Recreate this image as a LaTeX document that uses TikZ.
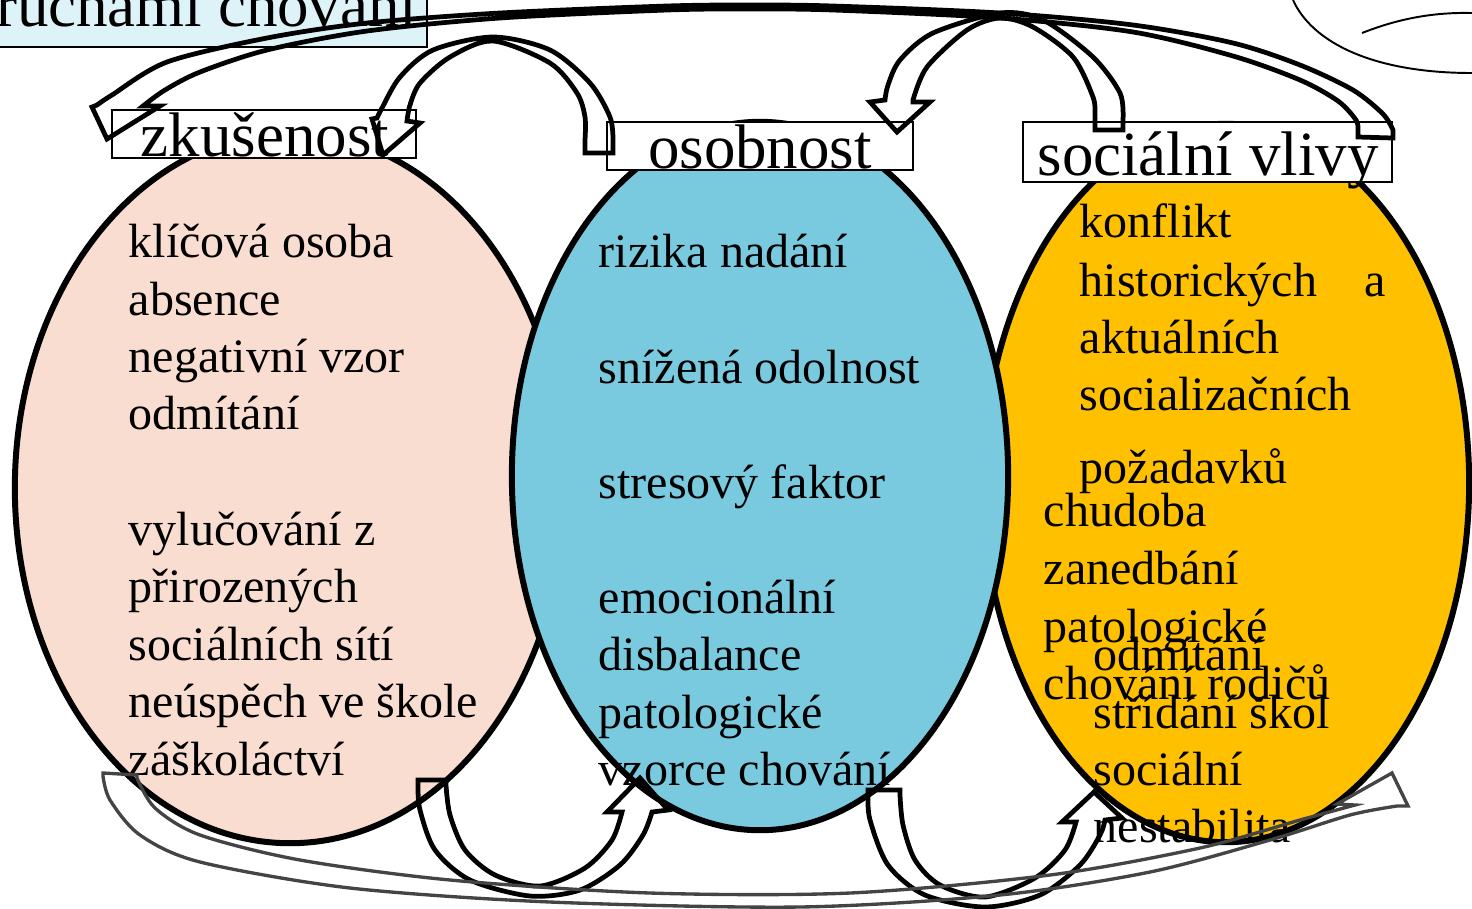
\documentclass[tikz,border=0pt]{standalone}
\usepackage{fontspec}
\setmainfont{Liberation Serif}
\usetikzlibrary{shapes.geometric}
\definecolor{peach}{RGB}{249,221,208}
\definecolor{skyb}{RGB}{121,201,223}
\definecolor{amber}{RGB}{255,192,0}
\definecolor{paleCyan}{RGB}{221,243,248}
\definecolor{greyarrow}{RGB}{68,68,68}
\begin{document}
\begin{tikzpicture}[x=0.01cm,y=-0.01cm,
  ell/.style={ellipse, draw=black, line width=1.7pt, inner sep=0pt},
  tbox/.style={rectangle, draw=black, fill=white, line width=0.6pt, inner sep=0pt},
  ttl/.style={anchor=base, inner sep=0pt, font=\fontsize{17.9}{21}\selectfont},
  txt/.style={anchor=base west, inner sep=0pt, font=\fontsize{13.66}{16.4}\selectfont},
  blockarrow/.style={draw=black, line width=1.35pt},
  greyblock/.style={draw=greyarrow, line width=0.95pt},
  thinarc/.style={draw=black, line width=0.55pt}]
\useasboundingbox (0,0) rectangle (1472,908);
\clip (0,0) rectangle (1472,908);

% header box (cut off at the top)
\node[tbox, fill=paleCyan, minimum width=4.6cm, minimum height=1cm, anchor=south east] (hdr) at (428,48) {};
\node[ttl, anchor=base east] (hdrt) at (418,26) {ruchami chování};

% decorative arcs top right
\draw[thinarc] (1293,0) .. controls (1312,42) and (1372,73) .. (1472,73);
\draw[thinarc] (1362,33) .. controls (1395,20) and (1430,12) .. (1472,13);

% ellipses
\node[ell, fill=peach, minimum width=5.5cm, minimum height=7.1cm] (zk) at (290,488) {};
\node[ell, fill=amber, minimum width=4.86cm, minimum height=7.18cm] (sv) at (1226,483) {};
\node[ell, fill=skyb, minimum width=4.96cm, minimum height=7.08cm] (os) at (760,476) {};

% title boxes
\node[tbox, minimum width=3.04cm, minimum height=0.48cm] (zkbox) at (264,134) {};
\node[tbox, minimum width=3.06cm, minimum height=0.48cm] (osbox) at (760,146) {};
\node[tbox, minimum width=3.69cm, minimum height=0.60cm] (svbox) at (1207.5,152) {};
\node[ttl] (zktitle) at (265,156) {zkušenost};
\node[ttl] (ostitle) at (760,168) {osobnost};
\node[ttl] (svtitle) at (1208,175) {sociální vlivy};

% texts
\foreach \y/\t [count=\i] in {257/klíčová osoba, 315/absence, 372/negativní vzor, 429/odmítání, 545/vylučování z, 602/přirozených, 660/sociálních sítí, 717/neúspěch ve škole, 775/záškoláctví}
  {\node[txt] (zkline\i) at (128,\y) {\t};}
\foreach \y/\t [count=\i] in {267/rizika nadání, 383/snížená odolnost, 498/stresový faktor, 613/emocionální, 670/disbalance, 728/patologické, 785/vzorce chování}
  {\node[txt] (osline\i) at (598,\y) {\t};}
\node[txt] (svA1) at (1079,237) {konflikt};
\node[txt] (svA2) at (1079,296) {\makebox[3.06cm][s]{historických\hfill a}};
\node[txt] (svA3) at (1079,353) {aktuálních};
\node[txt] (svA4) at (1079,410) {socializačních};
\node[txt] (svA5) at (1079,483) {požadavků};
\foreach \y/\t [count=\i] in {526/chudoba, 584/zanedbání, 642/patologické, 699/chování rodičů}
  {\node[txt] (svB\i) at (1043,\y) {\t};}
\foreach \y/\t [count=\i] in {670/odmítání, 728/střídání škol, 785/sociální, 842/nestabilita}
  {\node[txt] (svC\i) at (1093,\y) {\t};}

% big top arrow: from sociální vlivy to zkušenost
\draw[blockarrow] (1393,138) -- plot[smooth] coordinates {(1393,130) (1383,114) (1353,90) (1300,65) (1233,43) (1133,25) (1000,13) (833,6) (750,5) (667,6) (500,13) (367,23) (267,38) (167,62) (112,95) (97,105)}
  -- (92,107) -- (107,139) -- (160,106) -- (143,106)
  -- plot[smooth] coordinates {(143,106) (165,90) (200,72) (267,50) (367,31) (500,18) (667,10) (750,9) (833,10) (1000,18) (1133,32) (1233,56) (1300,80) (1338,101) (1356,120) (1358,130)}
  -- (1358,137) -- cycle;

% arrow from osobnost to zkušenost
\draw[blockarrow] (585,153) -- (613,153) -- plot[smooth] coordinates {(613,140) (610,117) (590,83) (550,50) (493,37) (433,50) (400,77) (382,108) (377,118)}
  -- (372,119) -- (383,155) -- (420,123) -- (407,121)
  -- plot[smooth] coordinates {(407,121) (410,105) (420,83) (450,57) (493,41) (550,63) (577,93) (585,117) (585,140)} -- cycle;

% arrow from sociální vlivy to osobnost
\draw[blockarrow] (1095,130) -- (1123,130) -- plot[smooth] coordinates {(1123,120) (1120,93) (1093,57) (1043,20) (1000,13) (933,33) (900,60) (888,85) (885,100)}
  -- (870,102) -- (897,132) -- (930,102) -- (913,102)
  -- plot[smooth] coordinates {(913,100) (927,67) (967,30) (1000,18) (1033,27) (1073,57) (1093,97) (1095,115) (1095,125)} -- cycle;

% U arrow from zkušenost to osobnost
\draw[blockarrow] (446,780) -- (418,780) -- plot[smooth] coordinates {(418,785) (420,810) (435,850) (470,880) (530,896) (580,890) (620,865) (643,835) (652,812)}
  -- (668,810) -- (640,778) -- (607,812) -- (622,812)
  -- plot[smooth] coordinates {(622,812) (612,840) (585,868) (540,886) (495,875) (465,850) (450,815) (446,785)} -- cycle;

% U arrow from osobnost to sociální vlivy
\draw[blockarrow] (900,790) -- (868,790) -- plot[smooth] coordinates {(868,795) (870,820) (888,865) (925,895) (985,907) (1040,895) (1080,865) (1100,835) (1105,820)}
  -- (1122,818) -- (1094,792) -- (1062,822) -- (1076,822)
  -- plot[smooth] coordinates {(1076,822) (1065,850) (1035,878) (985,897) (940,885) (915,860) (903,825) (900,795)} -- cycle;

% grey bottom arrow from zkušenost to sociální vlivy
\draw[greyblock] (137,775) -- (103,773) -- plot[smooth] coordinates {(103,776) (110,800) (140,835) (200,862) (350,888) (550,902) (800,907) (1000,895) (1150,872) (1270,840) (1350,815) (1397,806)}
  -- (1408,806) -- (1392,773) -- (1337,804) -- (1355,805)
  -- plot[smooth] coordinates {(1355,805) (1300,820) (1200,848) (1050,875) (850,893) (650,893) (450,880) (300,860) (200,835) (155,808) (137,778)} -- cycle;
\end{tikzpicture}
\end{document}
